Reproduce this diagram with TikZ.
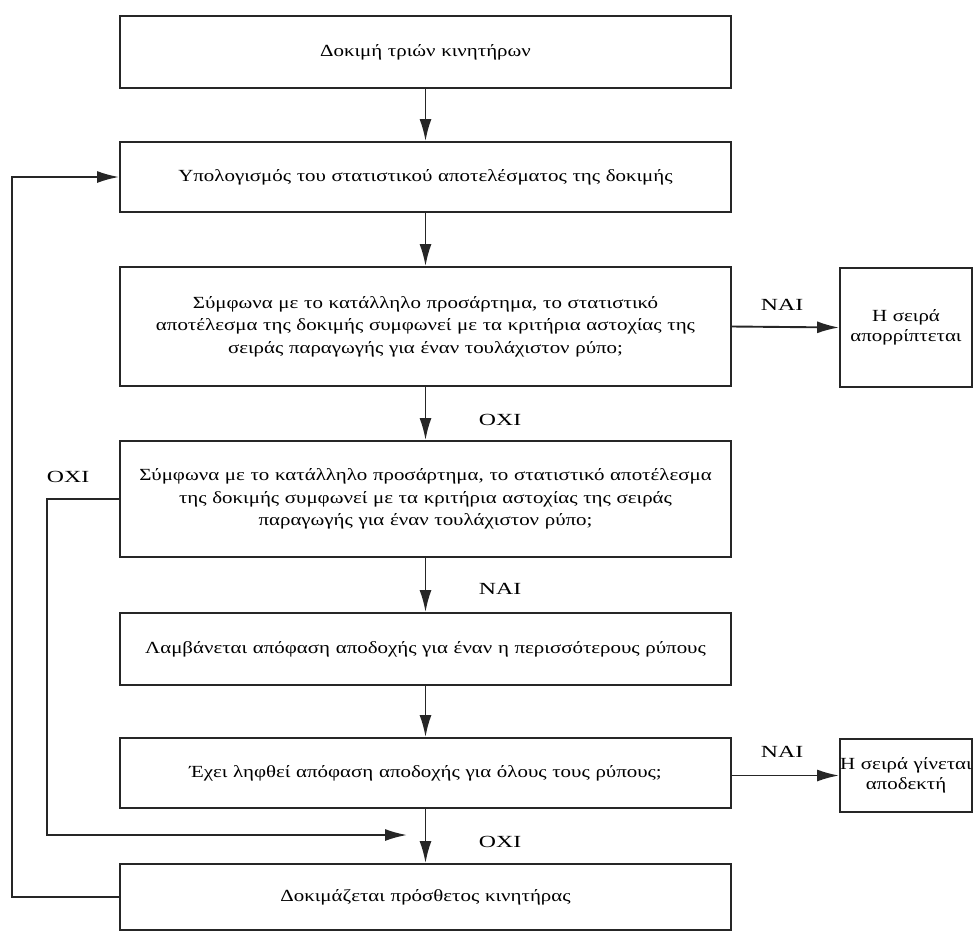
\documentclass[tikz,border=0pt]{standalone}
\usepackage{fontspec}
\setmainfont{Liberation Serif}[FakeStretch=1.23]
\newfontfamily\lblfont{Liberation Serif}[FakeStretch=1.4]
\usetikzlibrary{arrows.meta}
\begin{document}
\begin{tikzpicture}[x=1pt,y=-1pt,
  line width=1.9pt, draw=black!85,
  font=\fontsize{17}{22.5}\selectfont,
  mainbox/.style={draw=black!85, minimum width=611pt, text width=605pt, align=center, inner sep=0pt},
  sidebox/.style={draw=black!85, minimum width=132pt, text width=132pt, align=center, inner sep=0pt, font=\fontsize{17}{20}\selectfont},
  lbl/.style={inner sep=0pt, anchor=west, font=\lblfont\fontsize{17}{20}\selectfont},
  arr/.style={-{Latex[length=22pt,width=12pt]}, draw=black!85}
]
\useasboundingbox (0,0) rectangle (973,932);
\node[mainbox, minimum height=72pt] (b1) at (425.5,52) {Δοκιμή τριών κινητήρων};
\node[mainbox, minimum height=70pt] (b2) at (425.5,177) {Υπολογισμός του στατιστικού αποτελέσματος της δοκιμής};
\node[mainbox, minimum height=119pt] (b3) at (425.5,326.5) {Σύμφωνα με το κατάλληλο προσάρτημα, το στατιστικό\\ αποτέλεσμα της δοκιμής συμφωνεί με τα κριτήρια αστοχίας της\\ σειράς παραγωγής για έναν τουλάχιστον ρύπο;};
\node[mainbox, minimum height=116pt] (b4) at (425.5,499) {Σύμφωνα με το κατάλληλο προσάρτημα, το στατιστικό αποτέλεσμα\\ της δοκιμής συμφωνεί με τα κριτήρια αστοχίας της σειράς\\ παραγωγής για έναν τουλάχιστον ρύπο;};
\node[mainbox, minimum height=72pt] (b5) at (425.5,649) {Λαμβάνεται απόφαση αποδοχής για έναν η περισσότερους ρύπους};
\node[mainbox, minimum height=70pt] (b6) at (425.5,773) {Έχει ληφθεί απόφαση αποδοχής για όλους τους ρύπους;};
\node[mainbox, minimum height=66pt] (b7) at (425.5,897) {Δοκιμάζεται πρόσθετος κινητήρας};
\node[sidebox, minimum height=119pt] (r1) at (906,327.5) {Η σειρά\\ απορρίπτεται};
\node[sidebox, minimum height=73pt] (r2) at (906,775.5) {Η σειρά γίνεται\\ αποδεκτή};

\draw[arr] (b1) -- (b2);
\draw[arr] (b2) -- (b3);
\draw[arr] (b3) -- (b4);
\draw[arr] (b4) -- (b5);
\draw[arr] (b5) -- (b6);
\draw[arr] (b6) -- (b7);
\draw[arr] (b3.east) -- (r1.west);
\draw[arr] (b6.east |- r2.west) -- (r2.west);
\coordinate (tip) at (407,835);
\draw[arr] (b4.west) -- (47,499) |- (tip);
\draw[arr] (b7.west) -- (12,897) |- (b2.west);

\node[lbl] (l1) at (760,305) {NAI};
\node[lbl] (l2) at (478,420) {OXI};
\node[lbl] (l3) at (46,477) {OXI};
\node[lbl] (l4) at (478,589) {NAI};
\node[lbl] (l5) at (760,752) {NAI};
\node[lbl] (l6) at (478,842) {OXI};
\end{tikzpicture}
\end{document}
